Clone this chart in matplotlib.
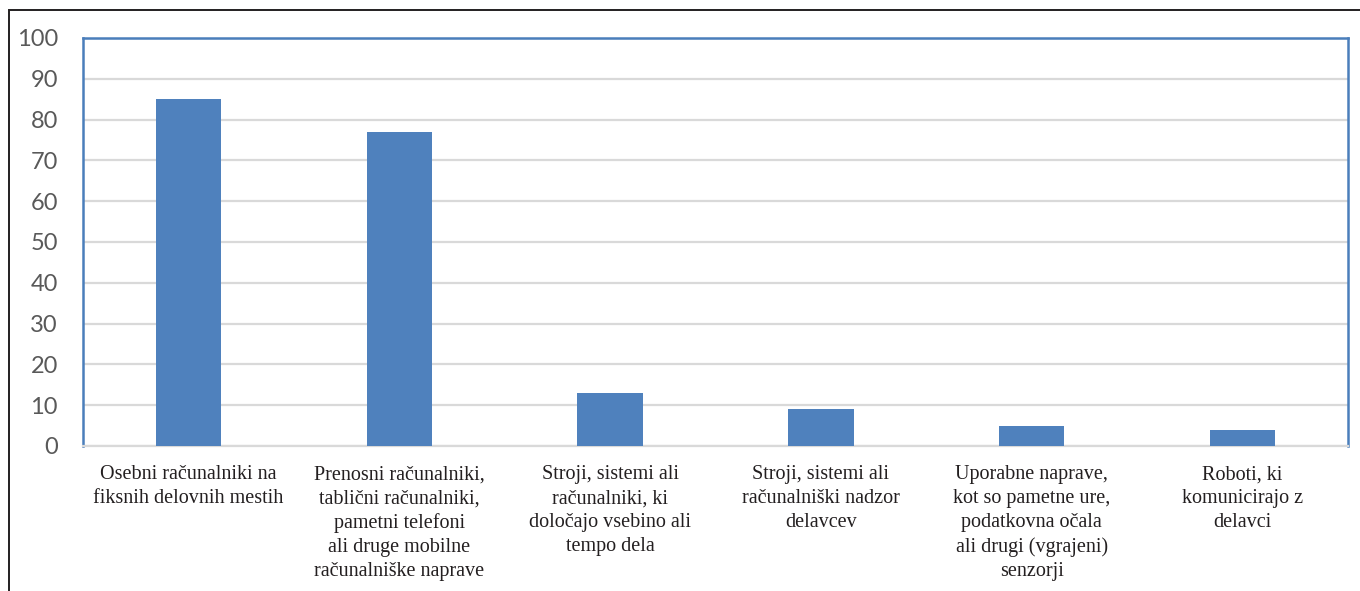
import matplotlib.pyplot as plt
from matplotlib.patches import Rectangle

categories = [
    "Osebni računalniki na\nfiksnih delovnih mestih",
    "Prenosni računalniki,\ntablični računalniki,\npametni telefoni\nali druge mobilne\nračunalniške naprave",
    "Stroji, sistemi ali\nračunalniki, ki\ndoločajo vsebino ali\ntempo dela",
    "Stroji, sistemi ali\nračunalniški nadzor\ndelavcev",
    "Uporabne naprave,\nkot so pametne ure,\npodatkovna očala\nali drugi (vgrajeni)\nsenzorji",
    "Roboti, ki\nkomunicirajo z\ndelavci",
]
values = [85, 77, 13, 9, 5, 4]
yticks = [0, 10, 20, 30, 40, 50, 60, 70, 80, 90, 100]

blue = "#4f81bd"
frame_blue = "#4a7ebb"
grid_grey = "#d9d9d9"

fig = plt.figure(figsize=(13.6, 5.91), dpi=100)

# thin black frame around the figure (open to the right and bottom)
fig.patches.append(Rectangle((9 / 1360, -0.1), 1.2, (591 - 10) / 591 + 0.1,
                             transform=fig.transFigure, fill=False,
                             edgecolor="#231f20", linewidth=1.4))

ax = fig.add_axes([83 / 1360, (591 - 446) / 591, 1265 / 1360, 408 / 591])

x = range(len(categories))
ax.bar(x, values, width=0.31, color=blue, zorder=3)

ax.set_xlim(-0.5, len(categories) - 0.5)
ax.set_ylim(0, 100)
ax.set_yticks(yticks)
ax.grid(axis="y", color=grid_grey, linewidth=1.6, zorder=0)
ax.set_axisbelow(True)

for side in ["top", "left", "right"]:
    ax.spines[side].set_color(frame_blue)
    ax.spines[side].set_linewidth(1.8)
ax.spines["bottom"].set_color(grid_grey)
ax.spines["bottom"].set_linewidth(1.6)

ax.tick_params(axis="y", length=0, pad=18, labelsize=17, labelcolor="#595959")
for lbl in ax.get_yticklabels():
    lbl.set_family("Lato")

ax.set_xticks(list(x))
ax.set_xticklabels(categories, family="Liberation Serif", fontsize=14.5,
                   color="#231f20", linespacing=1.35, multialignment="center")
ax.tick_params(axis="x", length=0, pad=14)

fig.savefig("out.png", dpi=100)
